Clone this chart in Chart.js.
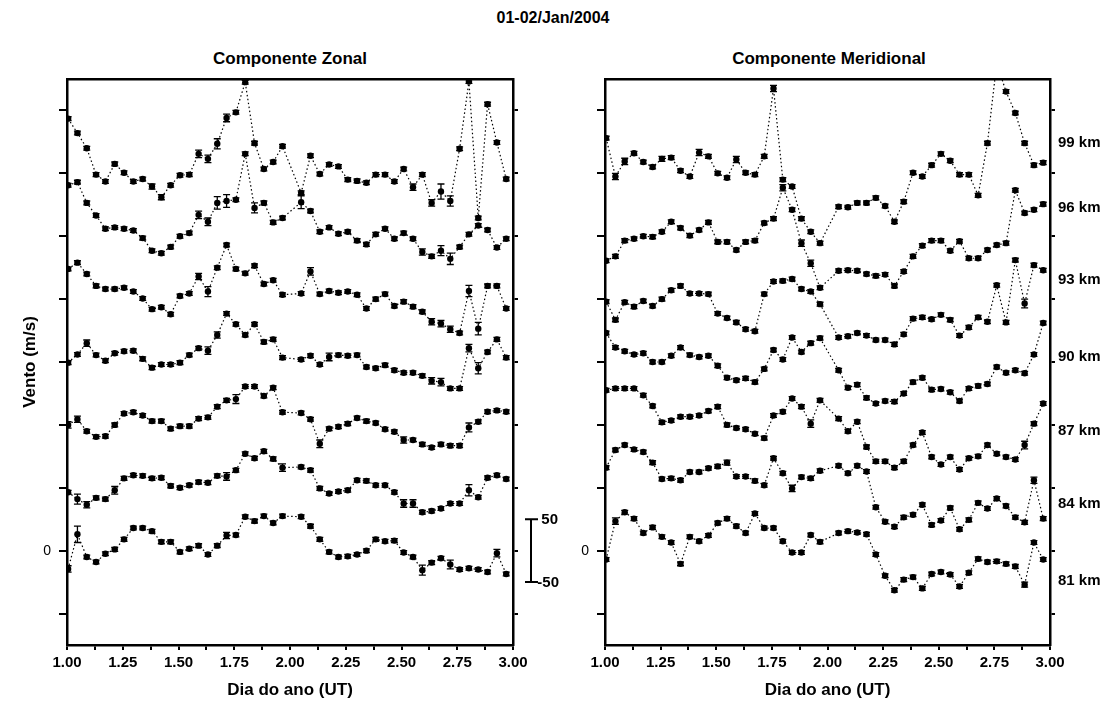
<!DOCTYPE html>
<html>
<head>
<meta charset="utf-8">
<title>01-02/Jan/2004</title>
<script src="https://cdn.jsdelivr.net/npm/chart.js@4.4.1/dist/chart.umd.min.js"></script>
<style>
    body { margin: 0; background: #fff; font-family: Arial, 'Liberation Sans', sans-serif; }
    #wrap { position: relative; width: 1108px; height: 711px; overflow: hidden; }
    canvas { position: absolute; top: 0; }
    .txt { position: absolute; font-weight: bold; color: #000; white-space: nowrap; transform: translateX(-50%); }
</style>
</head>
<body>
<div id="wrap">
    <div class="txt" style="left:553px; top:9px; font-size:16px;">01-02/Jan/2004</div>
    <div class="txt" style="left:290px; top:49px; font-size:17px;">Componente Zonal</div>
    <div class="txt" style="left:829px; top:49px; font-size:17px;">Componente Meridional</div>
    <canvas id="zonal" width="560" height="711" style="left:0; width:560px; height:711px"></canvas>
    <canvas id="merid" width="548" height="711" style="left:560px; width:548px; height:711px"></canvas>
</div>

<script>
// profile times (day of year), about one per hour; the 25th profile is missing everywhere
const days = Array.from({ length: 48 }, (_, i) => 1.005 + i * 0.0418)

const alturas = ['81 km', '84 km', '87 km', '90 km', '93 km', '96 km', '99 km']
const offsets = [0, 100, 200, 300, 400, 500, 600] // each height shifted by 100 m/s

// zonal wind (m/s)
const zon81 = [-29, 26, -10, -18, -5, 2, 18, 36, 36, 31, 14, 14, -2, 3, 8, -6, 8, 24, 25, 54, 47, 55, 44, 55, null, 54, 39, 18, -2, -10, -9, -6, 0, 18, 15, 16, -3, -10, -31, -19, -12, -22, -30, -28, -30, -34, -4, -37]
const zon84 = [-7, -18, -27, -16, -18, -4, 15, 20, 19, 15, 16, 3, 0, 4, 9, 8, 19, 18, 28, 54, 47, 58, 46, 32, null, 33, 28, -1, -9, -6, -4, 12, 11, 4, 4, -7, -25, -25, -39, -37, -33, -25, -25, -4, -15, 16, 20, 14]
const zon87 = [0, 9, -10, -19, -18, 0, 18, 20, 15, 6, 6, -6, -2, -2, 10, 12, 29, 39, 41, 61, 61, 46, 59, 20, null, 19, 9, -30, -6, -3, 2, 11, 6, 3, -7, -11, -24, -24, -31, -36, -31, -33, -33, -4, 5, 21, 23, 21]
const zon90 = [-1, 12, 30, 11, 2, 14, 17, 18, 5, -9, -4, -4, -1, 11, 22, 18, 43, 77, 60, 43, 60, 32, 36, 7, null, 4, 10, -4, 8, 11, 10, 11, -8, -10, -5, -13, -17, -17, -22, -30, -32, -42, -42, 22, -10, 16, 36, 7]
const zon93 = [48, 58, 40, 21, 16, 16, 18, 12, 1, -16, -13, -24, 5, 9, 36, 12, 50, 86, 48, 41, 53, 24, 30, 7, null, 9, 44, 8, 13, 10, 12, 7, -15, 0, 8, -11, -4, -12, -20, -36, -39, -48, -54, 13, -47, 21, 21, -15]
const zon96 = [81, 86, 53, 33, 12, 14, 12, 9, -3, -23, -27, -17, 0, 5, 34, 23, 53, 56, 58, 131, 45, 53, 22, 29, null, 54, 40, 7, 14, 4, 7, -7, -13, 3, 12, -4, 5, -4, -25, -32, -23, -36, -17, 3, 17, 10, -18, -4]
const zon99 = [87, 64, 40, -2, -13, 15, 1, -13, -9, -21, -38, -19, -3, -2, 31, 23, 47, 88, 97, 145, 48, 7, 18, 43, null, -31, 28, -1, 14, 11, -10, -12, -15, -2, -2, -13, 7, -22, -2, -47, -29, -44, 39, 146, -71, 110, 49, -9]

// meridional wind (m/s)
const mer81 = [-14, 47, 61, 51, 28, 37, 22, 13, -21, 22, 15, 24, 44, 51, 39, 28, 59, 36, 36, 15, -3, -3, 25, 14, null, 28, 31, 29, 26, -6, -40, -63, -46, -42, -60, -37, -34, -38, -57, -35, -13, -18, -17, -21, -25, -54, 13, -14]
const mer84 = [32, 60, 68, 61, 57, 40, 14, 15, 12, 25, 25, 31, 34, 40, 18, 18, 11, 4, 47, 23, -1, 17, 15, 27, null, 35, 23, 35, 26, -31, -54, -62, -47, -43, -27, -59, -52, -32, -66, -51, -24, -33, -17, -29, -47, -55, 12, -49]
const mer87 = [55, 58, 58, 58, 47, 30, 4, 7, 13, 13, 15, 22, 29, 0, -5, -7, -14, -21, 15, 21, 42, 29, 2, 39, null, 10, -10, 5, -35, -58, -58, -68, -58, -32, -12, -51, -63, -51, -71, -53, -50, -32, -46, -51, -55, -32, 2, 34]
const mer90 = [46, 23, 17, 12, 14, 0, 0, 10, 23, 11, 8, 10, -6, -25, -29, -26, -32, -11, 19, 4, 39, 16, 30, 38, null, -13, -41, -36, -57, -66, -62, -63, -50, -32, -25, -44, -43, -48, -62, -42, -38, -35, -8, -17, -13, -18, 12, 62]
const mer93 = [-4, -33, -5, -12, -3, -11, 0, 14, 21, 9, 9, 8, -23, -30, -37, -48, -51, 8, 28, 29, 32, 16, 12, -8, null, -61, -59, -54, -58, -65, -65, -72, -56, -31, -29, -32, -25, -33, -58, -45, -29, -36, 22, -37, 62, -7, 54, 46]
const mer96 = [-39, -32, -7, -4, 0, -1, 7, 23, 13, 1, 10, 22, -9, -9, -22, -9, -7, 21, 28, 77, 42, -11, -43, -82, null, -55, -54, -55, -60, -63, -61, -79, -56, -32, -15, -7, -7, -23, -8, -35, -35, -22, -14, -11, 73, 37, 42, 51]
const mer99 = [56, -5, 19, 32, 18, 10, 23, 25, 4, -5, 33, 27, 0, -7, 22, 1, -2, 27, 135, -10, -21, -72, -93, -111, null, -53, -54, -47, -47, -39, -52, -77, -45, 1, -5, 13, 31, 20, -2, -2, -35, 48, 175, 130, 96, 48, 13, 17]

// error bars (m/s): 3 unless listed
const errDefault = 3
const errZon81 = { 0: 5, 1: 13, 17: 5, 38: 8, 41: 7, 46: 6 }
const errZon84 = { 1: 8, 2: 5, 5: 6, 17: 6, 23: 6, 36: 6, 37: 6, 43: 9 }
const errZon87 = { 0: 5, 1: 5, 18: 7, 27: 6, 36: 5, 43: 7 }
const errZon90 = { 2: 5, 15: 6, 16: 5, 28: 6, 39: 5, 40: 6, 43: 6, 44: 9 }
const errZon93 = { 14: 5, 15: 8, 26: 6, 39: 5, 40: 5, 41: 5, 43: 9, 44: 10 }
const errZon96 = { 14: 6, 15: 6, 16: 10, 17: 10, 20: 8, 25: 10, 38: 5, 40: 8, 41: 9 }
const errZon99 = { 9: 4, 10: 4, 14: 6, 15: 6, 16: 8, 17: 6, 37: 5, 39: 5, 40: 12, 41: 8 }
const errMer81 = { 1: 5, 45: 4 }
const errMer84 = { 13: 4, 20: 5, 46: 5 }
const errMer87 = { 22: 6, 45: 6 }
const errMer90 = {}
const errMer93 = { 45: 7 }
const errMer96 = { 19: 5, 21: 5, 22: 5 }
const errMer99 = { 1: 5, 2: 5, 6: 4, 10: 5, 14: 5, 18: 5 }

const yTicks = [-100, 0, 100, 200, 300, 400, 500, 600, 700]
const xLabels = ['1.00', '1.25', '1.50', '1.75', '2.00', '2.25', '2.50', '2.75', '3.00']
const scaleBarRange = [-50, 50]
const kmLabelY = [-48, 75, 191, 308, 431, 545, 649]

const xTicks = []
for (let v = 1; v <= 3.0001; v += 0.125) xTicks.push(v)

const FONT = "Arial, 'Liberation Sans', sans-serif"
Chart.defaults.font.family = FONT
Chart.defaults.color = '#000'

const makeSets = (series, errs) =>
    series.map((vals, k) => ({
        data: vals.map((v, i) => ({ x: days[i], y: v == null ? null : v + offsets[k] })),
        errors: vals.map((v, i) => (errs[k][i] != null ? errs[k][i] : errDefault)),
        borderColor: '#000',
        borderWidth: 1.2,
        borderDash: [1.5, 2.5],
        pointRadius: 3.2,
        pointBackgroundColor: '#000',
        pointBorderWidth: 0,
        tension: 0,
        spanGaps: true,
    }))

const errorBars = {
    id: 'errorBars',
    afterDatasetsDraw(chart) {
        const { ctx, chartArea: a, scales: { x, y } } = chart
        ctx.save()
        ctx.beginPath()
        ctx.rect(a.left, a.top, a.right - a.left, a.bottom - a.top)
        ctx.clip()
        ctx.strokeStyle = '#000'
        ctx.lineWidth = 1.3
        ctx.beginPath()
        chart.data.datasets.forEach(ds => {
            ds.data.forEach((p, i) => {
                if (p.y == null) return
                const e = ds.errors[i]
                const px = x.getPixelForValue(p.x)
                const t = y.getPixelForValue(p.y + e)
                const b = y.getPixelForValue(p.y - e)
                ctx.moveTo(px, t); ctx.lineTo(px, b)
                ctx.moveTo(px - 3.5, t); ctx.lineTo(px + 3.5, t)
                ctx.moveTo(px - 3.5, b); ctx.lineTo(px + 3.5, b)
            })
        })
        ctx.stroke()
        ctx.restore()
    },
}

const scaleBar = {
    id: 'scaleBar',
    afterDraw(chart) {
        const { ctx, chartArea: a, scales: { y } } = chart
        const x0 = a.right + 18
        const top = y.getPixelForValue(scaleBarRange[1])
        const bot = y.getPixelForValue(scaleBarRange[0])
        ctx.save()
        ctx.strokeStyle = '#000'
        ctx.lineWidth = 2
        ctx.beginPath()
        ctx.moveTo(x0, top); ctx.lineTo(x0, bot)
        ctx.moveTo(x0 - 6, top); ctx.lineTo(x0 + 7, top)
        ctx.moveTo(x0 - 6, bot); ctx.lineTo(x0 + 7, bot)
        ctx.stroke()
        ctx.fillStyle = '#000'
        ctx.font = 'bold 15px ' + FONT
        ctx.textAlign = 'right'
        ctx.textBaseline = 'middle'
        ctx.fillText(String(scaleBarRange[1]), a.right + 45, top + 1)
        ctx.fillText(String(scaleBarRange[0]), a.right + 46, bot + 1)
        ctx.restore()
    },
}

const kmLabels = {
    id: 'kmLabels',
    afterDraw(chart) {
        const { ctx, chartArea: a, scales: { y } } = chart
        ctx.save()
        ctx.fillStyle = '#000'
        ctx.font = 'bold 15px ' + FONT
        ctx.textAlign = 'left'
        ctx.textBaseline = 'middle'
        alturas.forEach((t, k) => ctx.fillText(t, a.right + 8, y.getPixelForValue(kmLabelY[k])))
        ctx.restore()
    },
}

const setTicks = list => s => { s.ticks = list.map(v => ({ value: v })) }
// fixed axis width, and no extra room for half-labels at the ends
const fixWidth = w => s => { s.width = w; s.paddingTop = 0; s.paddingBottom = 0 }

function makeChart(id, datasets, leftWidth, rightWidth, yTitle, extra) {
    return new Chart(id, {
        type: 'line',
        data: { datasets },
        plugins: [errorBars].concat(extra),
        options: {
            responsive: false,
            animation: false,
            layout: { padding: { top: 79, left: 0, right: 0, bottom: 0 } },
            plugins: { legend: { display: false }, tooltip: { enabled: false } },
            scales: {
                x: {
                    type: 'linear', min: 1, max: 3,
                    afterBuildTicks: setTicks(xTicks),
                    afterFit: s => { s.height = 66 },
                    ticks: {
                        autoSkip: false, maxRotation: 0, padding: 4,
                        font: { size: 15, weight: 'bold' },
                        callback: v => {
                            const k = Math.round((v - 1) * 4)
                            return Math.abs((v - 1) * 4 - k) < 1e-6 ? xLabels[k] : ''
                        },
                    },
                    grid: { drawOnChartArea: false, tickLength: 5, lineWidth: 2, color: '#000' },
                    border: { width: 2.5, color: '#000' },
                    title: {
                        display: true, text: 'Dia do ano (UT)',
                        font: { size: 17, weight: 'bold' }, padding: { top: 0, bottom: 10 },
                    },
                },
                xTop: {
                    type: 'linear', position: 'top', min: 1, max: 3,
                    afterFit: s => { s.height = 0 },
                    ticks: { display: false },
                    grid: { display: false, drawTicks: false },
                    border: { width: 2.5, color: '#000' },
                },
                y: {
                    type: 'linear', min: -150, max: 750,
                    afterBuildTicks: setTicks(yTicks),
                    afterFit: fixWidth(leftWidth),
                    ticks: { padding: 8, font: { size: 14 }, callback: v => (v === 0 ? '0' : '') },
                    grid: { drawOnChartArea: false, tickLength: 8, lineWidth: 2, color: '#000' },
                    border: { width: 2.5, color: '#000' },
                    title: {
                        display: !!yTitle, text: yTitle || '',
                        font: { size: 17, weight: 'bold' }, padding: { top: 20, bottom: 0 },
                    },
                },
                yRight: {
                    type: 'linear', position: 'right', min: -150, max: 750,
                    afterBuildTicks: setTicks(yTicks),
                    afterFit: fixWidth(rightWidth),
                    ticks: { display: false },
                    grid: { drawOnChartArea: false, tickLength: 5, lineWidth: 2, color: '#000' },
                    border: { width: 2.5, color: '#000' },
                },
            },
        },
    })
}

makeChart('zonal',
    makeSets([zon81, zon84, zon87, zon90, zon93, zon96, zon99],
        [errZon81, errZon84, errZon87, errZon90, errZon93, errZon96, errZon99]),
    67, 47, 'Vento (m/s)', [scaleBar])

makeChart('merid',
    makeSets([mer81, mer84, mer87, mer90, mer93, mer96, mer99],
        [errMer81, errMer84, errMer87, errMer90, errMer93, errMer96, errMer99]),
    45, 58, null, [kmLabels])
</script>
</body>
</html>
